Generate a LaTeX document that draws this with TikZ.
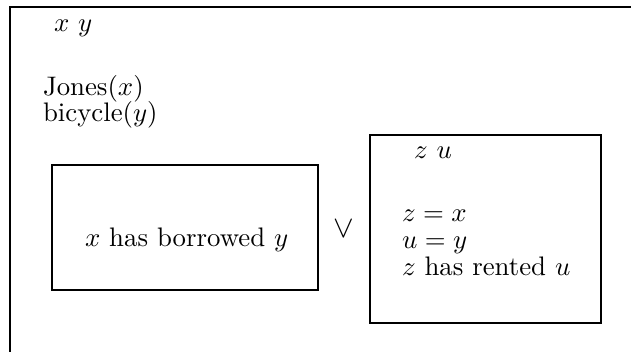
\documentclass[tikz,border=0pt]{standalone}
\begin{document}
\begin{tikzpicture}[x=1pt,y=-1pt,
  every node/.style={inner sep=0pt,outer sep=0pt},
  txt/.style={anchor=base west,scale=2.68,transform shape},
  drsbox/.style={draw,line width=1.6pt},
  frame/.style={line width=2pt}]
\useasboundingbox (0,0) rectangle (631,351);
\draw[frame] (10,352) coordinate (bl) -- (10,7) coordinate (tl) -- (632,7) coordinate (tr);
\node[txt] (xy) at (54,31) {$x$ $y$};
\node[txt] (jones) at (43,95) {Jones($x$)};
\node[txt] (bicycle) at (43,121) {bicycle($y$)};
\node[drsbox,minimum width=266pt,minimum height=125pt,anchor=north west] (left) at (52,165) {};
\node[txt] (borrowed) at (85,246) {$x$ has borrowed $y$};
\node[scale=3.1,transform shape] (or) at (344,229) {$\vee$};
\node[drsbox,minimum width=231pt,minimum height=188pt,anchor=north west] (right) at (370,135) {};
\node[txt] (zu) at (414,158) {$z$ $u$};
\node[txt] (zx) at (402,221) {$z=x$};
\node[txt] (uy) at (402,248) {$u=y$};
\node[txt] (rented) at (402,275) {$z$ has rented $u$};
\end{tikzpicture}
\end{document}
